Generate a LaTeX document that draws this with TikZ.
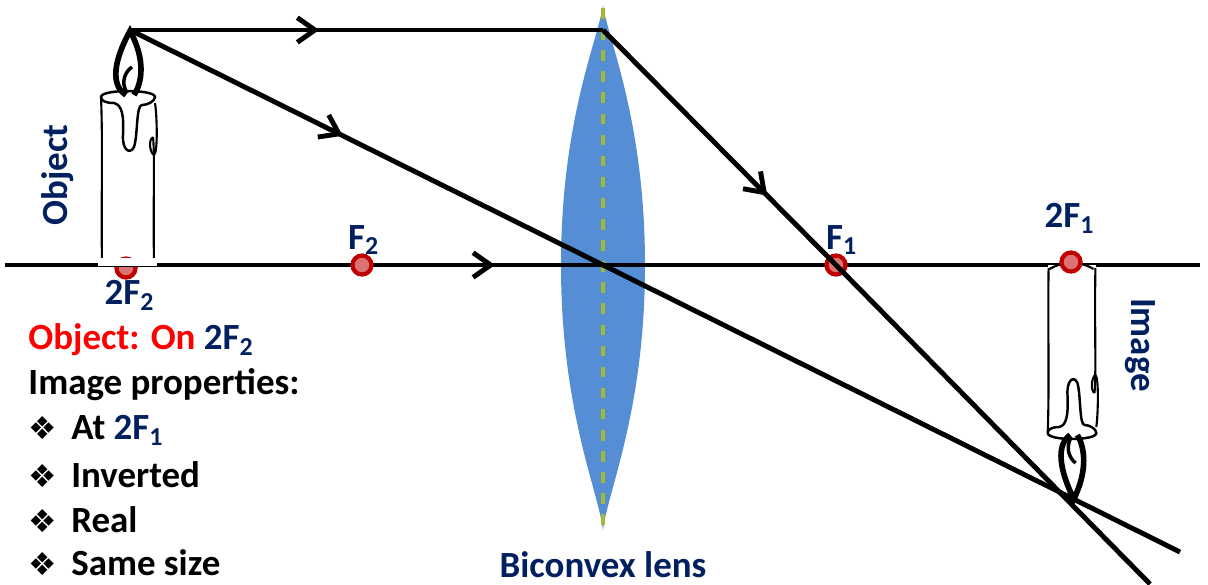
\documentclass[tikz,border=0pt]{standalone}
\usepackage{fontspec}
\setmainfont{Carlito}
\newfontfamily\symfont{DejaVu Sans}
\usetikzlibrary{decorations.markings,arrows.meta}
\definecolor{navy}{RGB}{0,32,96}
\definecolor{lensblue}{RGB}{85,142,213}
\definecolor{dotred}{RGB}{192,0,0}
\begin{document}
\begin{tikzpicture}[x=0.01cm,y=-0.01cm]

    % Common styles
    \tikzset{
        ray/.style={line width=1.4pt, black},
        arrowat/.style={postaction={decorate, decoration={markings,
            mark=at position #1 with {\arrow{Straight Barb[length=5pt,width=7pt]}}}}},
        point/.style={circle, draw=dotred, fill=dotred!55, line width=1.2pt,
            minimum size=0.19cm, inner sep=0pt},
        lbl/.style={font=\fontsize{10.5}{12}\selectfont\bfseries, text=navy},
        txt/.style={font=\fontsize{10.5}{12}\selectfont\bfseries, anchor=west},
        candle/.pic={
            \fill[white] (-27,0) rectangle (27,-172);
            \draw[line width=0.6pt] (-26,-3) .. controls (-27,-60) and (-25,-120) .. (-27,-168);
            \draw[line width=0.6pt] (26,-3) .. controls (25,-60) and (27,-110) .. (25,-128);
            \draw[line width=0.6pt] (-25,-4) .. controls (-10,4) and (10,4) .. (24,-4);
            \draw[line width=0.7pt] (-27,-168) .. controls (-27,-176) and (27,-176) .. (27,-168)
                .. controls (27,-164) and (20,-160) .. (14,-160)
                .. controls (8,-160) and (10,-130) .. (6,-118)
                .. controls (2,-110) and (-6,-115) .. (-5,-130)
                .. controls (-4,-150) and (-6,-160) .. (-14,-162)
                .. controls (-22,-162) and (-27,-164) .. (-27,-168);
            \draw[line width=0.6pt] (25,-128) .. controls (20,-125) and (22,-112) .. (26,-110)
                .. controls (30,-112) and (29,-150) .. (27,-162);
            \draw[line width=1.6pt] (-2,-170) .. controls (-18,-180) and (-14,-205) .. (2,-234)
                .. controls (18,-205) and (14,-182) .. (6,-170);
            \draw[line width=1pt] (-1,-172) .. controls (-8,-184) and (-2,-194) .. (4,-198);
        }
    }

    \useasboundingbox (0,0) rectangle (1208,584);

    % ====================== Lens ======================
    \fill[lensblue] (603,5) .. controls (598,40) and (561,120) .. (561,265)
        .. controls (561,410) and (598,490) .. (603,530)
        .. controls (608,490) and (645,410) .. (645,265)
        .. controls (645,120) and (608,40) .. (603,5);
    \draw[yellow!70!green!80!black, dashed, line width=1pt] (603,8) -- (603,527);
    \node[lbl] (lens) at (603,565) {Biconvex lens};

    % ================ Axis and candles ================
    \draw[ray, arrowat=0.41] (5,265) -- (1200,265);
    \pic at (128,265) {candle};
    \pic[yscale=-1, xscale=0.9] at (1072,265) {candle};

    % ===================== Points =====================
    \coordinate (tip) at (130,30);
    \coordinate (top) at (603,30);
    \coordinate (centre) at (603,265);
    \coordinate (end1) at (1150,584);
    \coordinate (end2) at (1180,552);
    \node[point] (F2) at (362,265) {};
    \node[point] (F1) at (836,265) {};
    \node[point] (2F1) at (1071,262) {};
    \node[point] (2F2) at (126,268) {};
    \fill[white] (100,258) rectangle (156,265.5);
    \draw[ray] (95,265) -- (160,265);
    \fill[white] (98,266) rectangle (157,262);
    \node[lbl] at (364,240) {F\textsubscript{2}};
    \node[lbl] at (842,240) {F\textsubscript{1}};
    \node[lbl] at (1070,218) {2F\textsubscript{1}};
    \node[lbl] at (130,295) {2F\textsubscript{2}};

    % ====================== Rays ======================
    \draw[ray, arrowat=0.4] (tip) -- (top);
    \draw[ray, arrowat=0.3] (top) -- (F1.center) -- (end1);
    \draw[ray, arrowat=0.45] (tip) -- (centre);
    \draw[ray] (centre) -- (end2);

    % ===================== Texts ======================
    \node[lbl, rotate=90] (obj) at (58,175) {Object};
    \node[lbl, rotate=-90] (img) at (1140,345) {Image};
    \node[txt, text=red] (t1) at (16,340) {Object: On \textcolor{navy}{2F\textsubscript{2}}};
    \node[txt] (t2) at (16,385) {Image properties:};
    \node[txt] (t3) at (16,430) {{\symfont\small ❖}\, At \textcolor{navy}{2F\textsubscript{1}}};
    \node[txt] (t4) at (16,475) {{\symfont\small ❖}\, Inverted};
    \node[txt] (t5) at (16,520) {{\symfont\small ❖}\, Real};
    \node[txt] (t6) at (16,563) {{\symfont\small ❖}\, Same size};

\end{tikzpicture}
\end{document}
